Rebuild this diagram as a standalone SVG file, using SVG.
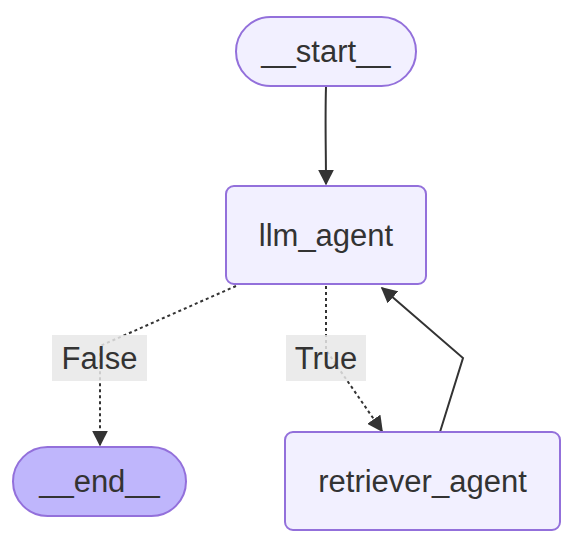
<svg xmlns="http://www.w3.org/2000/svg" width="586" height="544" viewBox="0 0 586 544">
<style>
.node rect{fill:#f2f0ff;stroke:#9370db;stroke-width:2}
.node.end rect{fill:#bfb6fc}
.t{font-family:"Liberation Sans",Arial,sans-serif;font-size:31px;fill:#333;text-anchor:middle;dominant-baseline:central}
.e{fill:none;stroke:#333;stroke-width:2}
.d{stroke-dasharray:3 3}
.lbl{fill:#e8e8e8;opacity:0.85}
</style>
<defs>
<marker id="ah" viewBox="0 0 10 10" refX="10" refY="5" markerWidth="8" markerHeight="8" markerUnits="userSpaceOnUse" orient="auto">
<path d="M0,0 L10,5 L0,10 z" fill="#333"/>
</marker>
<marker id="a" viewBox="0 0 10 10" refX="9" refY="5" markerWidth="16" markerHeight="16" markerUnits="userSpaceOnUse" orient="auto">
<path d="M0,0 L10,5 L0,10 z" fill="#333"/>
</marker>
</defs>
<g id="edges">
<path class="e" d="M326,87 C325,120 326,150 326,184" marker-end="url(#a)"/>
<path class="e d" d="M236,286 L100,346 L100,445" marker-end="url(#a)"/>
<path class="e d" d="M326,286 L326,350 L382,431" marker-end="url(#a)"/>
<path class="e" d="M440,432 L463,358 L382,288" marker-end="url(#a)"/>
</g>
<g id="edge-labels">
<g id="label-false"><rect class="lbl" x="52" y="335" width="95" height="46"/><text class="t" x="99.5" y="358">False</text></g>
<g id="label-true"><rect class="lbl" x="286" y="335" width="80" height="46"/><text class="t" x="326" y="358">True</text></g>
</g>
<g id="start" class="node"><rect x="236" y="17" width="180" height="69" rx="34.5"/><text class="t" x="326" y="51">__start__</text></g>
<g id="llm_agent" class="node"><rect x="226" y="186" width="200" height="98" rx="8"/><text class="t" x="326" y="235">llm_agent</text></g>
<g id="end" class="node end"><rect x="13" y="447" width="173" height="69" rx="34.5"/><text class="t" x="99.5" y="481">__end__</text></g>
<g id="retriever_agent" class="node"><rect x="285" y="432" width="275" height="98" rx="8"/><text class="t" x="422.5" y="481">retriever_agent</text></g>
</svg>
